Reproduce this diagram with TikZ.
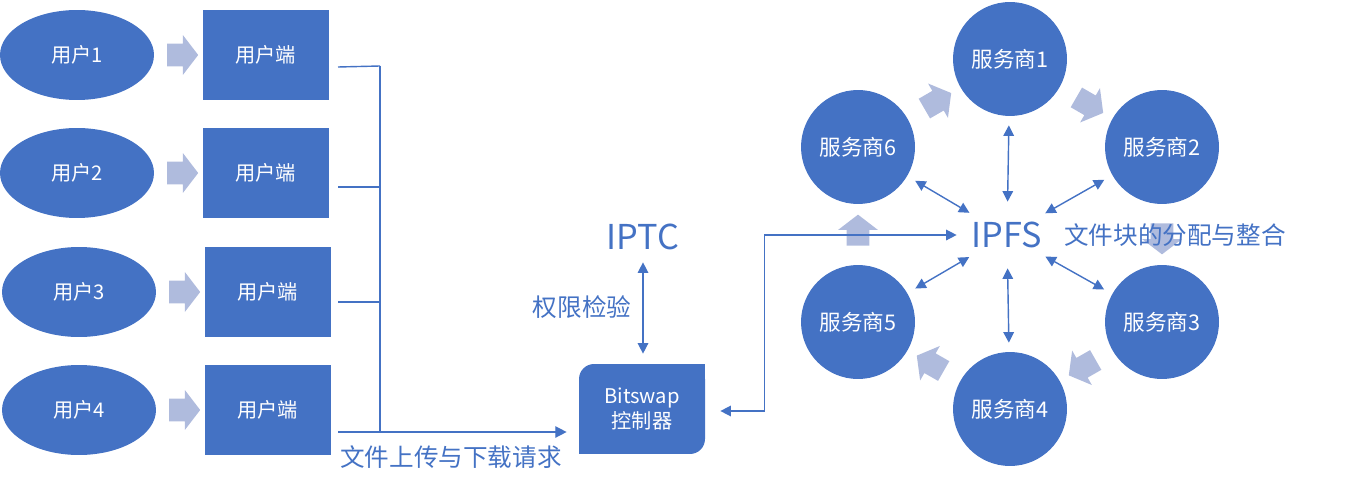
\documentclass[tikz,border=0pt]{standalone}
\usepackage{fontspec}
\setmainfont{Noto Sans CJK SC}
\usetikzlibrary{shapes.geometric, shapes.arrows, arrows.meta, positioning, calc}
\definecolor{mainblue}{HTML}{4472C4}
\definecolor{paleblue}{HTML}{AFBBDD}

\begin{document}
\begin{tikzpicture}[
    x=0.02cm, y=-0.02cm,
    user/.style={ellipse, fill=mainblue, minimum width=3.08cm, minimum height=1.8cm, text=white, font=\fontsize{11.5}{13}\selectfont},
    client/.style={rectangle, fill=mainblue, minimum width=2.52cm, minimum height=1.8cm, text=white, font=\fontsize{11.5}{13}\selectfont},
    server/.style={circle, fill=mainblue, minimum size=2.28cm, inner sep=0pt, text=white, font=\fontsize{12.3}{14}\selectfont},
    bigarrow/.style={single arrow, fill=paleblue, minimum height=0.62cm, inner xsep=0pt, inner ysep=0.22cm, single arrow head extend=0.17cm, single arrow tip angle=105},
    caption/.style={text=mainblue, inner sep=0pt, font=\fontsize{14}{16}\selectfont},
    bigtext/.style={text=mainblue, inner sep=0pt, font=\fontsize{19.5}{22}\selectfont},
    link/.style={draw=mainblue, line width=0.8pt},
    flow/.style={link, -{Triangle[length=6.5pt, width=6.5pt]}},
    dbl/.style={link, {Triangle[length=6pt, width=6pt]}-{Triangle[length=6pt, width=6pt]}}
]
\useasboundingbox (0,0) rectangle (1361,486);

% users and their clients
\node[user] (u1) at (77,55) {用户1};
\node[user] (u2) at (77,173) {用户2};
\node[user] (u3) at (79,292) {用户3};
\node[user] (u4) at (79,410) {用户4};
\foreach \i in {1,...,4} {
  \node[client, right=0.96cm of u\i] (c\i) {用户端};
  \path (u\i.east) -- (c\i.west) node[midway, bigarrow] {};
}

% controller and permission check
\node[client, align=center, rounded corners=0.3cm, font=\fontsize{11.5}{14}\selectfont] (bitswap) at (642,409) {Bitswap\\控制器};
\fill[mainblue] (bitswap.north east) rectangle ++(-20,20);
\fill[mainblue] (bitswap.south west) rectangle ++(20,-20);
\node[bigtext] (iptc) at (643,237) {IPTC};
\node[caption] (check) at (582,307) {权限检验};

% storage providers
\node[server] (s1) at (1010,59) {服务商1};
\node[server] (s2) at (1162,147) {服务商2};
\node[server] (s3) at (1162,322) {服务商3};
\node[server] (s4) at (1010,409) {服务商4};
\node[server] (s5) at (858,322) {服务商5};
\node[server] (s6) at (858,147) {服务商6};
\foreach \a/\b in {6/1, 1/2, 2/3, 3/4, 4/5, 5/6}
  \path (s\a) -- (s\b) node[midway, sloped, allow upside down, bigarrow] {};

\node[bigtext, ellipse, minimum width=2cm, minimum height=1.32cm] (ipfs) at (1007,235) {IPFS};
\node[caption] (chunks) at (1175,235) {文件块的分配与整合};

% connectors
\coordinate (bus) at (380,66);
\draw[link] ($(c1.east)+(9,12)$) -- (bus);
\draw[link] ($(c2.east)+(9,14)$) coordinate (a2) -- (a2 -| bus);
\draw[link] ($(c3.east)+(7,10)$) coordinate (a3) -- (a3 -| bus);
\draw[flow] ($(c4.east)+(7,22)$) coordinate (a4) -- ($(a4 -| bitswap.west)+(-12,0)$);
\draw[link] (bus) -- (bus |- a4);
\node[caption] (request) at (451,457) {文件上传与下载请求};

\draw[dbl, shorten <=0.24cm, shorten >=0.2cm] (iptc.south) -- (iptc.south |- bitswap.north);
\draw[dbl] ($(bitswap.east)+(15,2)$) -- ++(44,0) |- (ipfs.west);
\foreach \i in {1,...,6}
  \draw[dbl, shorten >=0.18cm] (ipfs) -- (s\i);
\end{tikzpicture}
\end{document}
